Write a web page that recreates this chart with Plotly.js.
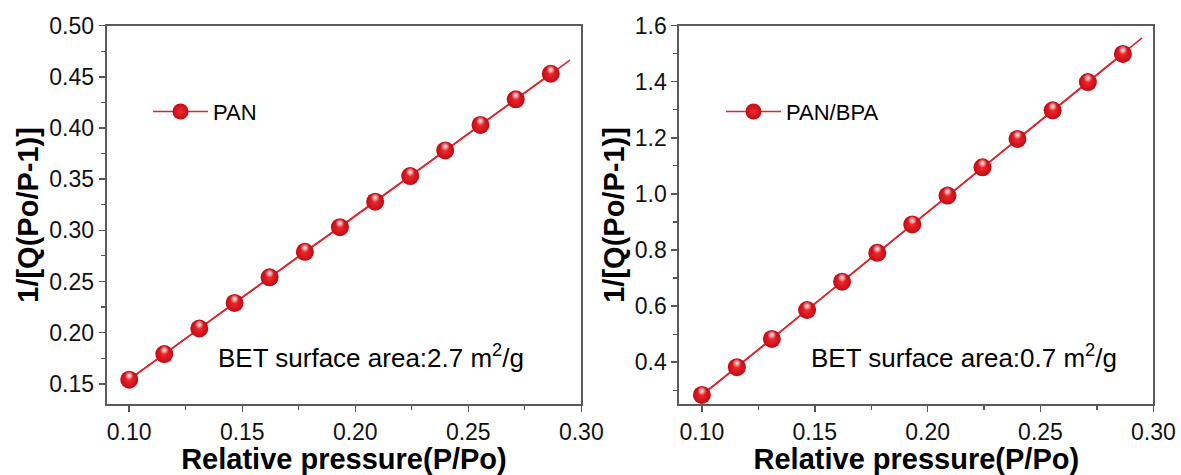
<!DOCTYPE html>
<html>
<head>
<meta charset="utf-8">
<script src="https://cdn.plot.ly/plotly-3.0.1.min.js"></script>
<style>html,body{margin:0;padding:0;background:#fff;}#chart{width:1181px;height:475px;}</style>
</head>
<body>
<div id="chart"></div>
<script>
// ---- data ----
const pressure = [0.100, 0.1155, 0.131, 0.1466, 0.1621, 0.1777, 0.1932, 0.2088, 0.2243, 0.2398, 0.2554, 0.2710, 0.2865];
const betPAN = [0.154, 0.179, 0.204, 0.229, 0.254, 0.279, 0.303, 0.328, 0.353, 0.378, 0.403, 0.428, 0.453];
const betPANBPA = [0.283, 0.382, 0.483, 0.586, 0.687, 0.790, 0.891, 0.994, 1.095, 1.196, 1.298, 1.399, 1.499];
const seriesNames = ['PAN', 'PAN/BPA'];
const areaNotes = ['BET surface area:2.7 m<sup>2</sup>/g', 'BET surface area:0.7 m<sup>2</sup>/g'];
const xTitle = 'Relative pressure(P/Po)';
const yTitle = '1/[Q(Po/P-1)]';
const fitRange = [0.100, 0.295];
const xRange = [0.09, 0.30];
const yRangePAN = [0.13, 0.50];
const yRangePANBPA = [0.25, 1.6];

// linear least squares fit of each series, drawn over fitRange
function fit(x, y) {
  const n = x.length;
  let sx = 0, sy = 0, sxx = 0, sxy = 0;
  for (let i = 0; i < n; i++) { sx += x[i]; sy += y[i]; sxx += x[i] * x[i]; sxy += x[i] * y[i]; }
  const b = (n * sxy - sx * sy) / (n * sxx - sx * sx);
  const a = (sy - b * sx) / n;
  return fitRange.map(v => a + b * v);
}

const LINE = '#e0222a';
const FONT = 'Liberation Sans, Arial, sans-serif';
const plotH = 378.6;
// overlay axis shifted a few pixels so the sphere highlight sits above the marker centre
function shifted(r, px) { const d = (r[1] - r[0]) / plotH * px; return [r[0] - d, r[1] - d]; }

function traces(y, name, xa, ya, yaHi, legend) {
  return [
    { x: fitRange, y: fit(pressure, y), xaxis: xa, yaxis: ya, mode: 'lines', line: { color: LINE, width: 1.6 }, showlegend: false, hoverinfo: 'skip' },
    { x: pressure, y: y, xaxis: xa, yaxis: ya, mode: 'lines+markers', name: name, legend: legend,
      line: { color: LINE, width: 1.6 },
      marker: { size: 18, color: '#c00c14', gradient: { type: 'radial', color: '#f5282f' }, line: { width: 0 } } },
    { x: pressure, y: y, xaxis: xa, yaxis: yaHi, mode: 'markers', showlegend: false, hoverinfo: 'skip',
      marker: { size: 9, color: 'rgba(255,255,255,0)', gradient: { type: 'radial', color: 'rgba(255,255,255,0.95)' }, line: { width: 0 } } }
  ];
}

const data = [].concat(
  traces(betPAN, seriesNames[0], 'x', 'y', 'y3', 'legend'),
  traces(betPANBPA, seriesNames[1], 'x2', 'y2', 'y4', 'legend2')
);

const tickFont = { family: FONT, size: 23, color: '#111' };
const titleFont = { family: FONT, size: 29, color: '#000', weight: 'bold' };
function xAxis(domain, anchor) {
  return { domain: domain, anchor: anchor, range: xRange, tick0: 0.1, dtick: 0.05, tickformat: '.2f',
    ticks: 'outside', ticklen: 6, tickwidth: 1.5, tickcolor: '#555', showline: true, linecolor: '#595959', linewidth: 2, mirror: true,
    showgrid: false, zeroline: false, tickfont: tickFont,
    minor: { ticks: 'outside', ticklen: 4, dtick: 0.025, tick0: 0.1, tickcolor: '#555', tickwidth: 1.2, showgrid: false },
    title: { text: xTitle, font: titleFont, standoff: 2 } };
}
function yAxis(range, dtick, fmt, minor, anchor) {
  return { domain: [0.149, 0.946], anchor: anchor, range: range, tick0: 0, dtick: dtick, tickformat: fmt,
    ticks: 'outside', ticklen: 6, tickwidth: 1.5, tickcolor: '#555', showline: true, linecolor: '#595959', linewidth: 2, mirror: true,
    showgrid: false, zeroline: false, tickfont: tickFont,
    minor: { ticks: 'outside', ticklen: 4, dtick: minor, tick0: 0, tickcolor: '#555', tickwidth: 1.2, showgrid: false },
    title: { text: yTitle, font: titleFont, standoff: 2 } };
}

const legendCommon = { font: { family: FONT, size: 22, color: '#000' }, bgcolor: 'rgba(0,0,0,0)', borderwidth: 0, itemwidth: 55, yanchor: 'middle', xanchor: 'left' };
const noteFont = { family: FONT, size: 26, color: '#000' };

const layout = {
  width: 1181, height: 475,
  margin: { l: 0, r: 0, t: 0, b: 0 },
  paper_bgcolor: '#fff', plot_bgcolor: '#fff',
  xaxis: xAxis([0.0903, 0.4922], 'y'),
  yaxis: yAxis(yRangePAN, 0.05, '.2f', 0.025, 'x'),
  xaxis2: xAxis([0.5752, 0.9766], 'y2'),
  yaxis2: yAxis(yRangePANBPA, 0.2, '.1f', 0.1, 'x2'),
  yaxis3: { overlaying: 'y', range: shifted(yRangePAN, 4), visible: false },
  yaxis4: { overlaying: 'y2', range: shifted(yRangePANBPA, 4), visible: false },
  legend: Object.assign({ x: 148 / 1181, y: 1 - 111.7 / 475 }, legendCommon),
  legend2: Object.assign({ x: 721 / 1181, y: 1 - 111.7 / 475 }, legendCommon),
  annotations: [
    { xref: 'paper', yref: 'paper', x: 216 / 1181, y: 1 - 356 / 475, xanchor: 'left', yanchor: 'middle', text: areaNotes[0], showarrow: false, font: noteFont },
    { xref: 'paper', yref: 'paper', x: 809 / 1181, y: 1 - 356 / 475, xanchor: 'left', yanchor: 'middle', text: areaNotes[1], showarrow: false, font: noteFont }
  ],
  showlegend: true
};

Plotly.newPlot('chart', data, layout, { staticPlot: true, displayModeBar: false });
</script>
</body>
</html>
